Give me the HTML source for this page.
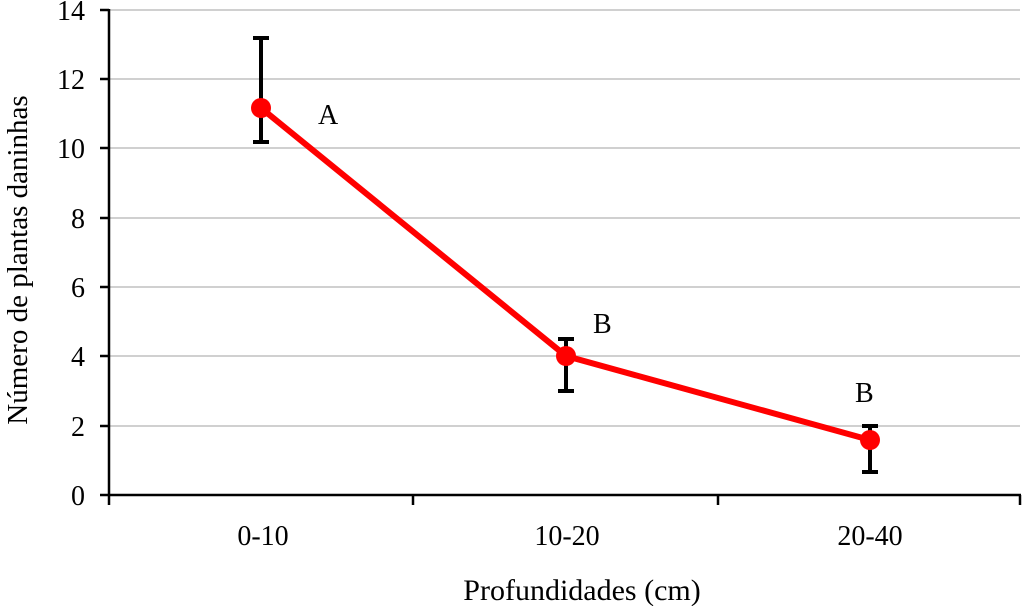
<!DOCTYPE html>
<html><head><style>body{margin:0;background:#fff}</style></head><body>
<svg width="1024" height="606" xmlns="http://www.w3.org/2000/svg" font-family="Liberation Serif, serif" font-size="28">
<g stroke="#d0d0d0" stroke-width="2">
<line x1="110" x2="1020" y1="10" y2="10"/><line x1="110" x2="1020" y1="79" y2="79"/><line x1="110" x2="1020" y1="148" y2="148"/><line x1="110" x2="1020" y1="218" y2="218"/><line x1="110" x2="1020" y1="287" y2="287"/><line x1="110" x2="1020" y1="356" y2="356"/><line x1="110" x2="1020" y1="426" y2="426"/>
</g>
<g stroke="#000" stroke-width="2.5">
<line x1="109" y1="9" x2="109" y2="496"/><line x1="100" y1="495" x2="1021" y2="495"/>
<line x1="100" y1="10" x2="109" y2="10"/><line x1="100" y1="79" x2="109" y2="79"/><line x1="100" y1="148" x2="109" y2="148"/><line x1="100" y1="218" x2="109" y2="218"/><line x1="100" y1="287" x2="109" y2="287"/><line x1="100" y1="356" x2="109" y2="356"/><line x1="100" y1="426" x2="109" y2="426"/>
<line x1="109" y1="495" x2="109" y2="505"/><line x1="413" y1="495" x2="413" y2="505"/><line x1="718" y1="495" x2="718" y2="505"/><line x1="1020" y1="495" x2="1020" y2="505"/>
</g>
<g text-anchor="end"><text x="85" y="505">0</text><text x="85" y="436">2</text><text x="85" y="366">4</text><text x="85" y="297">6</text><text x="85" y="228">8</text><text x="85" y="158">10</text><text x="85" y="89">12</text><text x="85" y="20">14</text></g>
<g text-anchor="middle"><text x="263" y="545">0-10</text><text x="567" y="545">10-20</text><text x="870" y="545">20-40</text>
<text x="582" y="600" font-size="30">Profundidades (cm)</text>
<text transform="translate(27,260) rotate(-90)" font-size="29">Número de plantas daninhas</text></g>
<polyline points="261,108 566,356 870,440" fill="none" stroke="#f00" stroke-width="6"/>
<g stroke="#000" stroke-width="4">
<line x1="261" y1="38" x2="261" y2="142"/><line x1="253" y1="38" x2="269" y2="38"/><line x1="253" y1="142" x2="269" y2="142"/>
<line x1="566" y1="339" x2="566" y2="391"/><line x1="558" y1="339" x2="574" y2="339"/><line x1="558" y1="391" x2="574" y2="391"/>
<line x1="870" y1="426" x2="870" y2="472"/><line x1="862" y1="426" x2="878" y2="426"/><line x1="862" y1="472" x2="878" y2="472"/>
</g>
<g fill="#f00"><circle cx="261" cy="108" r="10"/><circle cx="566" cy="356" r="10"/><circle cx="870" cy="440" r="10"/></g>
<text x="318" y="124">A</text><text x="593" y="333">B</text><text x="855" y="402">B</text>
</svg>
</body></html>
